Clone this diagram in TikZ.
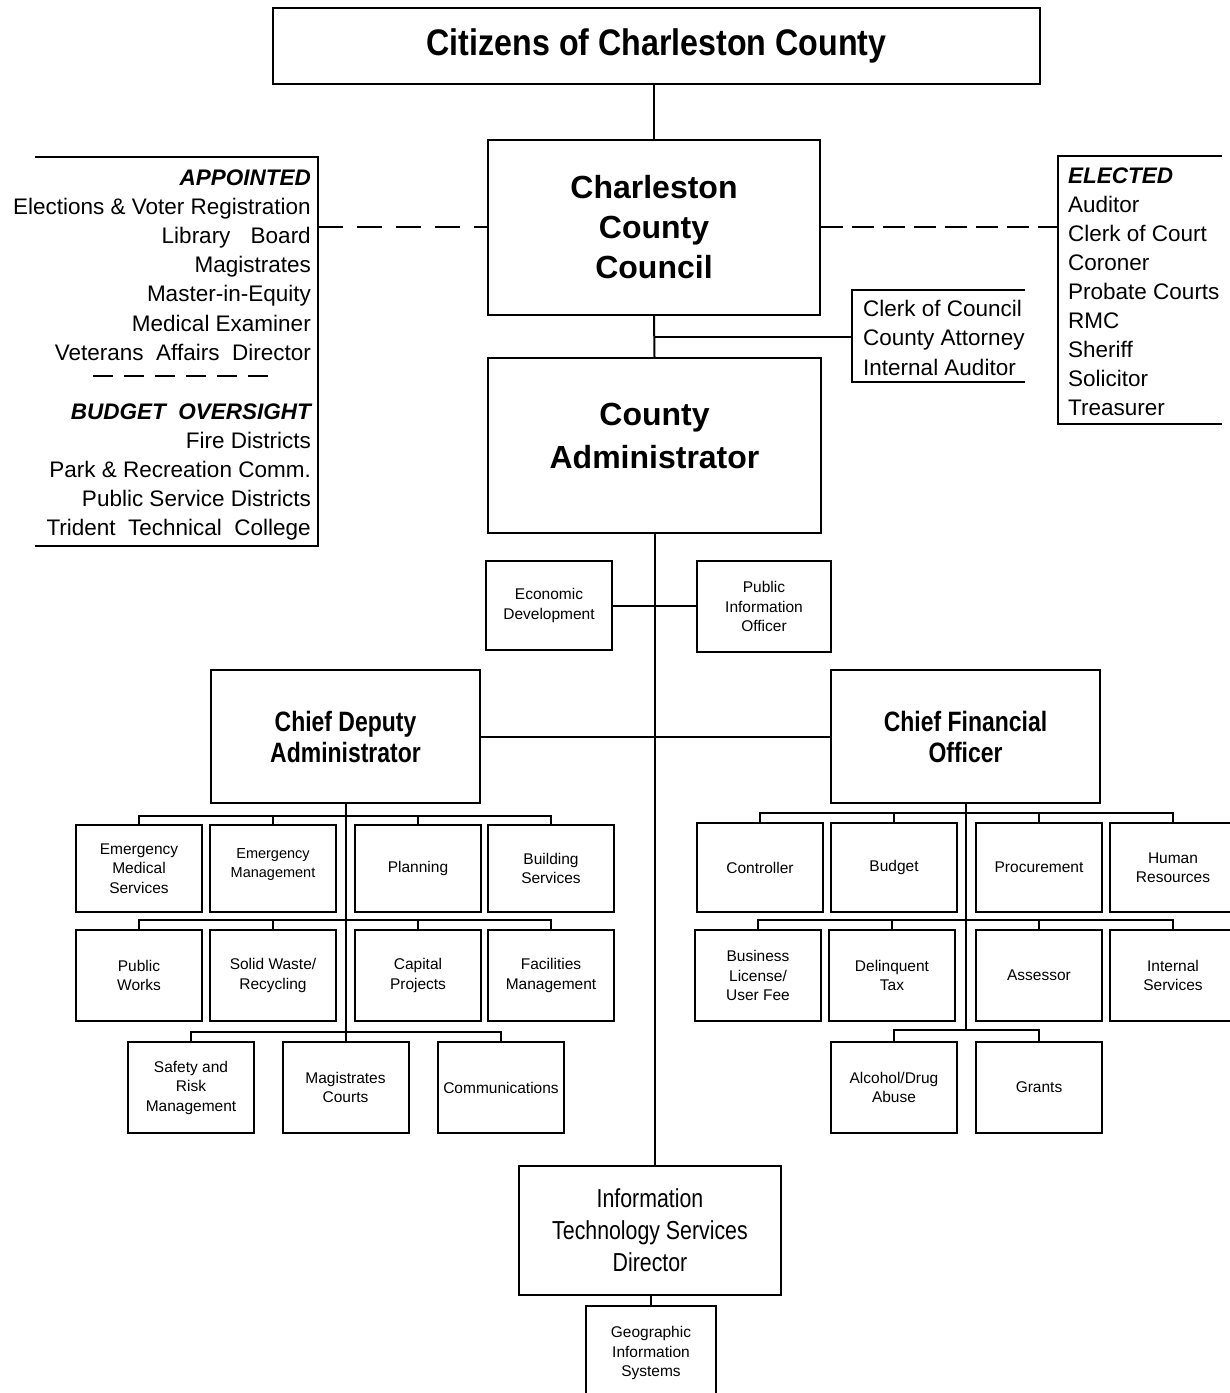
\documentclass[tikz,border=0pt]{standalone}
\usepackage{fontspec}
\setmainfont{Liberation Sans}
\newfontfamily\narrowfont[FakeStretch=0.82]{Liberation Sans}
\newfontfamily\citfont[FakeStretch=0.87]{Liberation Sans}
\begin{document}
\begin{tikzpicture}[x=1pt,y=-1pt,
  ln/.style={line width=2pt},
  box/.style={draw, line width=2pt, align=center, inner sep=0pt,
    font=\fontsize{15.5}{19.5}\selectfont},
  bigbox/.style={box, font=\fontsize{32}{40}\selectfont\bfseries},
  midbox/.style={box, font=\fontsize{28}{31}\selectfont\narrowfont\bfseries},
  itbox/.style={box, font=\fontsize{26}{32}\selectfont\narrowfont},
  listtext/.style={inner sep=0pt, font=\fontsize{22.5}{29}\selectfont},
  dashA/.style={ln, dash pattern=on 25pt off 14pt},
  dashE/.style={ln, dash pattern=on 22pt off 9pt},
  dashB/.style={ln, dash pattern=on 20pt off 11pt}]
\useasboundingbox[fill=white] (0,0) rectangle (1230,1393);

% ---- top level ----
\node[box, minimum width=767pt, minimum height=76pt,
  font=\fontsize{37}{40}\selectfont\citfont\bfseries] (cit) at (656.5,46) {Citizens of Charleston County};
\node[bigbox, minimum width=332pt, minimum height=175pt] (council) at (654,227.5) {Charleston\\County\\Council};
\node[bigbox, minimum width=333pt, minimum height=175pt, font=\fontsize{32}{43}\selectfont\bfseries] (admin) at (654.5,445.5) {County\\Administrator\\[-24pt]\mbox{}};

\draw[ln] (council.north) -- (council.north |- cit.south);
\draw[ln] (council.south) -- (admin.north);

% ---- appointed bracket ----
\draw[ln] (35,157) -- (318,157) -- (318,546) -- (35,546);
\coordinate (apR) at (318,227);
\draw[dashA] (apR) -- (apR -| council.west);
\foreach \t [count=\i] in {{\bfseries\itshape APPOINTED},
  Elections \& Voter Registration, Library\hspace{0.9em}Board, Magistrates,
  Master-in-Equity, Medical Examiner, Veterans\ \ Affairs\ \ Director}
  \node[listtext, anchor=base east] (ap\i) at (311,{185+(\i-1)*29.2}) {\t};
\coordinate (apd1) at (93,376);
\coordinate (apd2) at (273,376);
\draw[dashB] (apd1) -- (apd2);
\foreach \t [count=\i] in {{\bfseries\itshape BUDGET\ \ OVERSIGHT},
  Fire Districts, Park \& Recreation Comm., Public Service Districts,
  Trident\ \ Technical\ \ College}
  \node[listtext, anchor=base east] (bo\i) at (311,{419+(\i-1)*29.1}) {\t};

% ---- elected bracket ----
\draw[ln] (1222,156) -- (1058,156) -- (1058,424) -- (1222,424);
\coordinate (elL) at (1058,227);
\draw[dashE] (council.east |- elL) -- (elL);
\foreach \t [count=\i] in {{\bfseries\itshape ELECTED}, Auditor, Clerk of Court,
  Coroner, Probate Courts, RMC, Sheriff, Solicitor, Treasurer}
  \node[listtext, anchor=base west] (el\i) at (1068,{183+(\i-1)*29.1}) {\t};

% ---- clerk bracket ----
\draw[ln] (1025,290) -- (852,290) -- (852,382) -- (1025,382);
\coordinate (clk) at (852,337);
\draw[ln] (council.south |- clk) -- (clk);
\foreach \t [count=\i] in {Clerk of Council, County Attorney, Internal Auditor}
  \node[listtext, anchor=base west] (ck\i) at (863,{316+(\i-1)*29.5}) {\t};

% ---- staff ----
\node[box, minimum width=126pt, minimum height=89pt] (econ) at (549,605.5) {Economic\\Development};
\node[box, minimum width=134pt, minimum height=91pt] (pio) at (764,606.5) {Public\\Information\\Officer};
\draw[ln] (econ.east) -- (econ.east -| pio.west);

% ---- deputies ----
\node[midbox, minimum width=269pt, minimum height=133pt] (cda) at (345.5,736.5) {Chief Deputy\\Administrator};
\node[midbox, minimum width=269pt, minimum height=133pt] (cfo) at (965.5,736.5) {Chief Financial\\Officer};
\draw[ln] (cda.east) -- (cfo.west);

% ---- IT ----
\node[itbox, minimum width=262pt, minimum height=129pt] (it) at (650,1230.5) {Information\\Technology Services\\Director};
\node[box, minimum width=130pt, minimum height=94pt] (gis) at (651,1353) {Geographic\\Information\\Systems};
\draw[ln] (admin.south) -- (admin.south |- it.north);
\draw[ln] (gis.north) -- (gis.north |- it.south);

% ---- CDA departments ----
\tikzset{dept/.style={box, minimum width=126pt, minimum height=#1}}
\node[dept=87pt] (ems) at (139,868.5) {Emergency\\Medical\\Services};
\node[dept=87pt, font=\fontsize{14.5}{19.5}\selectfont] (em) at (273,868.5) {Emergency\\Management\\[-8pt]\mbox{}};
\node[dept=87pt] (plan) at (418,868.5) {Planning};
\node[dept=87pt] (bldg) at (551,868.5) {Building\\Services};
\node[dept=91pt] (pw) at (139,975.5) {Public\\Works};
\node[dept=91pt] (sw) at (273,975.5) {Solid Waste/\\Recycling};
\node[dept=91pt] (cap) at (418,975.5) {Capital\\Projects};
\node[dept=91pt] (fac) at (551,975.5) {Facilities\\Management};
\node[dept=91pt] (safe) at (191,1087.5) {Safety and\\Risk\\Management};
\node[dept=91pt] (mag) at (345.5,1087.5) {Magistrates\\Courts};
\node[dept=91pt] (comm) at (501,1087.5) {Communications};

\coordinate (cb1) at (0,816);
\coordinate (cb2) at (0,920);
\coordinate (cb3) at (0,1032);
\draw[ln] (cda.south) -- (mag.north);
\draw[ln] (ems.north) -- (ems.north |- cb1) -- (bldg.north |- cb1) -- (bldg.north);
\draw[ln] (em.north) -- (em.north |- cb1);
\draw[ln] (plan.north) -- (plan.north |- cb1);
\draw[ln] (pw.north) -- (pw.north |- cb2) -- (fac.north |- cb2) -- (fac.north);
\draw[ln] (sw.north) -- (sw.north |- cb2);
\draw[ln] (cap.north) -- (cap.north |- cb2);
\draw[ln] (safe.north) -- (safe.north |- cb3) -- (comm.north |- cb3) -- (comm.north);

% ---- CFO departments ----
\node[dept=89pt] (ctrl) at (760,867.5) {Controller};
\node[dept=89pt] (bud) at (894,867.5) {Budget};
\node[dept=89pt] (proc) at (1039,867.5) {Procurement};
\node[dept=89pt] (hr) at (1173,867.5) {Human\\Resources};
\node[dept=91pt] (bl) at (758,975.5) {Business\\License/\\User Fee};
\node[dept=91pt] (dt) at (892,975.5) {Delinquent\\Tax};
\node[dept=91pt] (ass) at (1039,975.5) {Assessor};
\node[dept=91pt] (is) at (1173,975.5) {Internal\\Services};
\node[dept=91pt] (alc) at (894,1087.5) {Alcohol/Drug\\Abuse};
\node[dept=91pt] (gr) at (1039,1087.5) {Grants};

\coordinate (fb1) at (0,813);
\coordinate (fb2) at (0,920);
\coordinate (fb3) at (0,1030);
\draw[ln] (cfo.south) -- (cfo.south |- fb3);
\draw[ln] (ctrl.north) -- (ctrl.north |- fb1) -- (hr.north |- fb1) -- (hr.north);
\draw[ln] (bud.north) -- (bud.north |- fb1);
\draw[ln] (proc.north) -- (proc.north |- fb1);
\draw[ln] (bl.north) -- (bl.north |- fb2) -- (is.north |- fb2) -- (is.north);
\draw[ln] (dt.north) -- (dt.north |- fb2);
\draw[ln] (ass.north) -- (ass.north |- fb2);
\draw[ln] (alc.north) -- (alc.north |- fb3) -- (gr.north |- fb3) -- (gr.north);
\end{tikzpicture}
\end{document}
